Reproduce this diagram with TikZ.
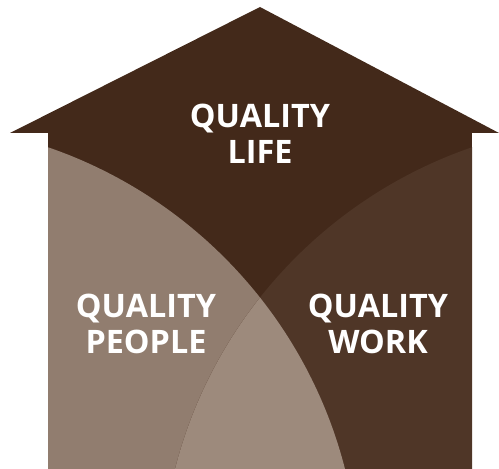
\documentclass[tikz,border=0pt]{standalone}
\usepackage{fontspec}
\setsansfont{Open Sans}
\usepackage{tikz}
\definecolor{roofbrown}{HTML}{43291A}
\definecolor{peoplebrown}{HTML}{917D6F}
\definecolor{workbrown}{HTML}{4F3627}
\definecolor{meetbrown}{HTML}{9D8A7C}
\tikzset{
	housetext/.style={text=white, align=center, font=\sffamily\bfseries\fontsize{27.6}{30.7}\selectfont}
}

\begin{document}
\begin{tikzpicture}[x=0.03cm, y=0.03cm]
		%%%%% START %%%%%
		\useasboundingbox (0, 0) rectangle (499, 468);
		
		% roof
		\fill[roofbrown] (10, 335) -- (260, 461) -- (499, 335) -- cycle;
		
		% walls
		\fill[roofbrown] (48, 0) rectangle (472, 336);
		\begin{scope}
			\clip (48, 0) rectangle (472, 336);
			\fill[peoplebrown] (-101.7, -115.4) circle (461);
			\fill[workbrown] (621.7, -115.4) circle (461);
			\begin{scope}
				\clip (-101.7, -115.4) circle (461);
				\fill[meetbrown] (621.7, -115.4) circle (461);
			\end{scope}
		\end{scope}
		
		\node[housetext] (life) at (260, 334) {QUALITY\\LIFE};
		\node[housetext] (people) at (146, 144) {QUALITY\\PEOPLE};
		\node[housetext] (work) at (378, 144) {QUALITY\\WORK};
		
		%%%%% END %%%%%
	\end{tikzpicture}
\end{document}
